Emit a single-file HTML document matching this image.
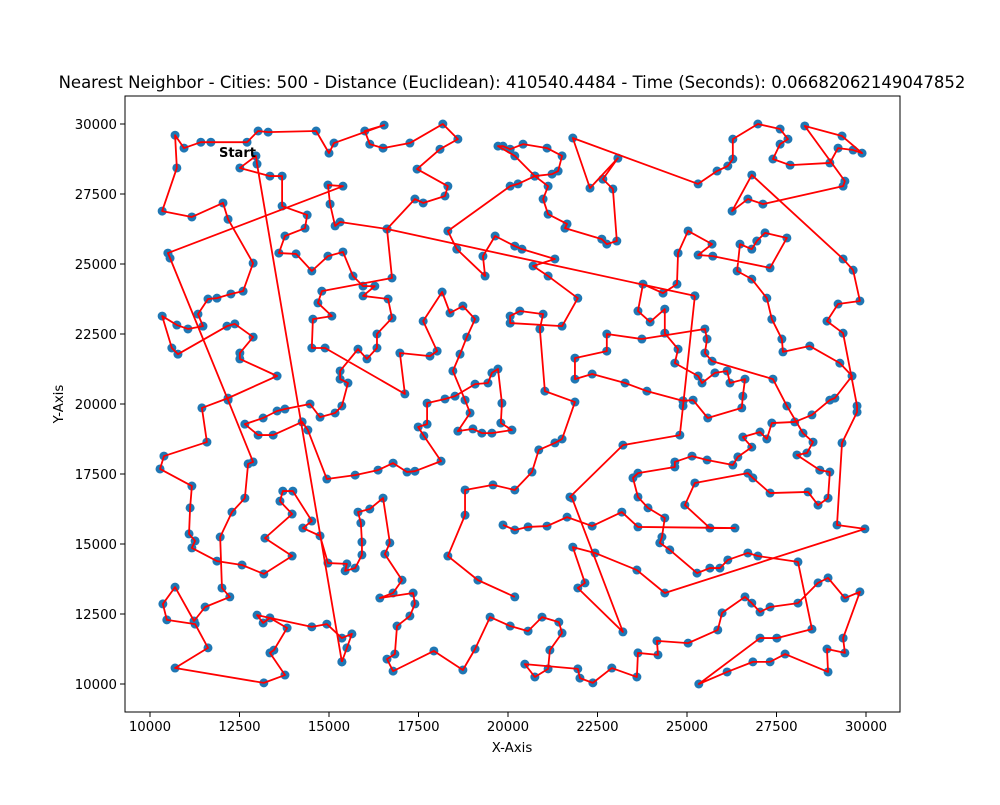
<!DOCTYPE html>
<html><head><meta charset="utf-8"><style>
body{margin:0;background:#fff}
svg text{font-family:"DejaVu Sans","Liberation Sans",sans-serif}
</style></head><body>
<svg id="chart" width="1000" height="800" xmlns="http://www.w3.org/2000/svg">
<rect width="1000" height="800" fill="#fff"/>
<text x="512" y="88" text-anchor="middle" font-size="16.5">Nearest Neighbor - Cities: 500 - Distance (Euclidean): 410540.4484 - Time (Seconds): 0.06682062149047852</text>
<g id="marks"></g>
<rect x="125" y="96" width="775" height="616" fill="none" stroke="#000" stroke-width="1"/>
<g id="xticks"></g>
<g id="yticks"></g>
<text x="512" y="752" text-anchor="middle" font-size="13.3">X-Axis</text>
<text x="63" y="404" text-anchor="middle" font-size="13.3" transform="rotate(-90 63 404)">Y-Axis</text>
</svg>
<script>
const xTickValues=[10000,12500,15000,17500,20000,22500,25000,27500,30000];
const yTickValues=[10000,12500,15000,17500,20000,22500,25000,27500,30000];
const startCity=[12960,28860];
const chainS=[[15360,10790],[12990,28570],[12960,28860],[12510,28430],[13350,28140],[13690,28140],[13690,27070],[14390,26750],[14330,26280],[13770,26000],[13600,25390],[14080,25360],[14520,24750],[14970,25280],[15390,25430],[15670,24570],[15950,24210],[16280,24210],[15950,23860],[16650,23750],[16760,23070],[16340,22500],[16340,22000],[16060,21610],[15810,21960],[15310,21180],[15310,20890],[15530,20750],[15360,19930],[15170,19680],[14750,19530],[14470,20000],[13770,19820],[13550,19750],[13160,19500],[12650,19280],[13020,18890],[13440,18890],[14250,19360],[14410,19070],[14940,17320],[15730,17460],[16370,17640],[16790,17890],[17180,17570],[17400,17600],[18130,17960],[17650,18860],[17490,19180],[17740,19280],[17740,20030],[18240,20180],[18520,20280],[19080,20710],[19440,20750],[19550,21110],[19720,21250],[19830,20030],[19800,19320],[20110,19070],[19550,18960],[19270,18960],[19020,19110],[18600,19030],[18940,19680],[18800,20140],[18460,21180],[18660,21780],[18850,22390],[19080,23030],[18740,23500],[18380,23250],[18160,24000],[17630,22960],[18020,21890],[17820,21710],[16980,21820],[17120,20360],[14890,22000],[14520,22000],[14550,23030],[15080,23140],[14690,23610],[14800,24030],[16760,24500],[16620,26250],[17400,27320],[17630,27180],[18240,27430],[18320,27780],[17460,28390],[18100,29100],[18600,29460],[18180,30000],[17260,29320],[16510,29140],[16140,29280],[16000,29750],[16540,29960],[15140,29320],[15000,28960],[14640,29750],[13300,29710],[13020,29750],[12710,29350],[11700,29350],[11420,29350],[10950,29140],[10700,29600],[10750,28430],[10340,26890],[11170,26680],[12040,27180],[12180,26600],[12880,25030],[12600,24030],[12260,23930],[11870,23780],[11620,23750],[11340,23210],[11480,22780],[11060,22680],[10750,22820],[10340,23140],[10610,22000],[10780,21780],[12150,22780],[12370,22860],[12880,22390],[12510,21820],[12510,21610],[13550,21000],[12180,20210],[11450,19860],[11590,18640],[10390,18140],[10280,17680],[11170,17070],[11120,16290],[11090,15360],[11260,15110],[11170,14860],[11870,14390],[12570,14250],[13180,13930],[13970,14570],[13210,15210],[13970,16070],[13630,16530],[13710,16890],[13990,16890],[14520,15820],[14270,15570],[14750,15290],[14970,14320],[15500,14290],[15450,14040],[15730,14140],[15920,14610],[15920,15070],[15890,15750],[15810,16140],[16140,16250],[16510,16640],[16700,15040],[16560,14640],[17040,13710],[16790,13250],[16420,13070],[17350,13250],[17400,12860],[17260,12430],[16900,12070],[16840,11070],[16620,10890],[16790,10460],[17930,11180],[18740,10500],[19080,11250],[19500,12390],[20060,12070],[20560,11890],[20950,12390],[21420,12210],[21510,11820],[21170,11210],[21120,10540],[20750,10250],[20470,10710],[21950,10540],[22010,10210],[22370,10040],[22900,10570],[23600,10250],[23630,11110],[24190,11040],[24160,11540],[25030,11460],[25860,11930],[25980,12540],[26620,13110],[26810,12890],[27040,12570],[27320,12750],[28100,12890],[28660,13610],[28940,13790],[29410,13070],[29830,13290],[29360,11640],[29410,11110],[28910,11250],[28940,10430],[27740,11070],[27320,10790],[26840,10790],[26120,10430],[25330,10000],[27040,11640],[27510,11640],[28490,11960],[28100,14360],[26980,14570],[26700,14680],[26140,14430],[25920,14140],[25640,14140],[25280,13960],[24520,14790],[24240,15040],[24300,15250],[24380,15930],[23910,16290],[23630,16680],[23490,17360],[23630,17530],[24660,17750],[24660,17930],[25140,18140],[25560,18000],[26280,17820],[26420,18110],[26810,18460],[26560,18820],[27040,19000],[27230,18750],[27370,19320],[28010,19360],[28490,19610],[28990,20140],[29130,20210],[29610,21000],[29270,21460],[28430,22070],[27680,21860],[27650,22320],[27370,23030],[27230,23780],[26810,24460],[26400,24750],[26480,25710],[26810,25530],[26950,25820],[27180,26110],[27790,25930],[27320,24860],[25720,25280],[25310,25320],[25700,25710],[25030,26180],[24750,25390],[24720,24280],[24330,23960],[23770,24280],[23630,23320],[23970,22930],[24380,23390],[24380,22530],[24750,21960],[24660,21460],[25310,21000],[25420,20750],[25780,21110],[26120,21180],[26200,20750],[26620,20890],[26560,20280],[26530,19860],[25580,19500],[25170,20140],[24890,20110]];
const chainB=[[15360,10790],[15500,11290],[15640,11790],[15360,11640],[14940,12140],[14520,12040],[12990,12460],[13160,12180],[13350,12360],[13830,12000],[13460,11210],[13350,11110],[13770,10320],[13180,10040],[10700,10570],[11620,11290],[11260,12140],[10470,12290],[10360,12860],[10700,13460],[11230,12250],[11540,12750],[12230,13110],[12010,13430],[11960,15250],[12290,16140],[12650,16640],[12740,17860],[12880,17930],[12180,20140],[10560,25210],[10500,25390],[15390,27780],[14970,27820],[15030,27140],[15170,26360],[15310,26500],[16620,26250],[25220,23860]];
const chainC=[[25220,23860],[24890,19930],[24800,18890],[23210,18530],[21730,16680],[21790,16640],[23210,11860],[21950,13430],[22150,13610],[21810,14890],[22430,14680],[23600,14070],[24380,13250],[29970,15540],[29190,15680],[29330,18610],[29750,19710],[29750,19930],[29360,22530],[28910,22960],[29220,23570],[29830,23680],[29640,24780],[29360,25180],[26810,28180],[26260,26890],[26700,27320],[27120,27140],[29360,27780],[29410,27960],[28290,29930],[29330,29570],[29890,28960],[29640,29070],[29220,29140],[28990,28610],[27880,28530],[27400,28750],[27600,29280],[27820,29460],[27600,29820],[26980,30000],[26280,29460],[26280,28750],[26140,28500],[25840,28320],[25310,27860],[21810,29500],[22290,27710],[23070,28780],[22650,28030],[22930,27680],[23040,25820],[22760,25710],[22620,25890],[21590,26280],[21650,26430],[21120,26780],[20980,27320],[21120,27780],[20750,28140],[21230,28210],[21400,28320],[21510,28860],[21090,29140],[20420,29280],[20060,29100],[19860,29210],[19720,29210],[20190,28860],[20750,28140]];
const chainD=[[20750,28140],[20280,27860],[20060,27780],[18320,26180],[18570,25530],[19360,24570],[19300,25280],[19640,26000],[20190,25640],[20390,25530],[21310,25180],[20700,24930],[21120,24570],[21950,23780],[21510,22780],[20060,22890],[20060,23140],[20330,23320],[20980,23210],[20890,22680],[21030,20460],[21870,20070],[21510,18750],[21310,18610],[20860,18360],[20670,17570],[20190,16930],[19580,17110],[18800,16930],[18800,16030],[18320,14570],[19160,13710],[20190,13110]];
const chainF=[[19860,15680],[20190,15500],[20560,15610],[21090,15640],[21650,15960],[22350,15640],[23180,16140],[23630,15610],[26340,15570],[25640,15570],[24940,16390],[25220,17180],[26700,17530],[26840,17360],[27320,16820],[28380,16860],[28660,16390],[28940,16640],[28990,17570],[28710,17640],[28070,18180],[28350,18250],[28520,18640],[28240,18960],[27790,19930],[27400,20890],[25700,21530],[25500,21820],[25560,22320],[25500,22680],[23740,22320],[22760,22500],[22760,21890],[21870,21640],[21870,20890],[22350,21070],[23270,20750],[23880,20460],[24890,20110]];
const tourChains=[chainS,chainB,chainC,chainD,chainF];

const NS='http://www.w3.org/2000/svg';
function sx(v){return 150+(v-10000)*0.0358;}
function sy(v){return 684-(v-10000)*0.028;}
function mk(tag,attrs,parent){const e=document.createElementNS(NS,tag);for(const k in attrs)e.setAttribute(k,attrs[k]);parent.appendChild(e);return e;}
const marks=document.getElementById('marks');
const pts=mk('g',{},marks);


tourChains.forEach(ch=>ch.forEach(p=>{
  const c=mk('circle',{cx:sx(p[0]),cy:sy(p[1]),r:4.5,fill:'#1f77b4'},pts);
  
  
}));
tourChains.forEach(ch=>{
  const pl=mk('polyline',{points:ch.map(p=>sx(p[0])+','+sy(p[1])).join(' '),fill:'none',stroke:'#ff0000','stroke-width':1.8,'stroke-linejoin':'round'},marks);
  
  
});
const st=mk('text',{x:sx(startCity[0]),y:sy(startCity[1])+1,'text-anchor':'end','font-size':13,'font-weight':'bold'},marks);
st.textContent='Start';


const xg=document.getElementById('xticks');
xTickValues.forEach(v=>{
  const x=sx(v);
  const l=mk('line',{x1:x,x2:x,y1:712,y2:717,stroke:'#000'},xg);
  
  
  const t=mk('text',{x:x,y:731,'text-anchor':'middle','font-size':13.3},xg);
  t.textContent=v;
  
  
});
const yg=document.getElementById('yticks');
yTickValues.forEach(v=>{
  const y=sy(v);
  const l=mk('line',{x1:120,x2:125,y1:y,y2:y,stroke:'#000'},yg);
  
  
  const t=mk('text',{x:117,y:y+5,'text-anchor':'end','font-size':13.3},yg);
  t.textContent=v;
  
  
});
</script>
</body></html>
